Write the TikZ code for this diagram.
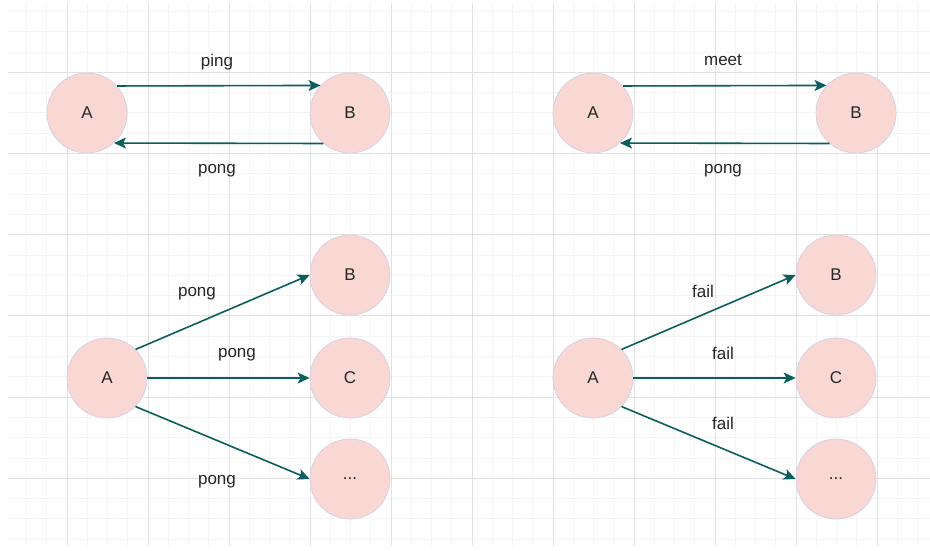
\documentclass[tikz,border=0pt]{standalone}
\usepackage{fontspec}
\setmainfont{Liberation Sans}
\usetikzlibrary{arrows.meta}
\definecolor{cfill}{HTML}{F9D8D3}
\definecolor{cline}{HTML}{D8D0E6}
\definecolor{arr}{HTML}{0A5F5C}
\definecolor{gmaj}{HTML}{E2E2E2}
\definecolor{gmin}{HTML}{F4F4F4}
\tikzset{
  peer/.style={circle,fill=cfill,draw=cline,line width=0.8pt,minimum size=80pt,inner sep=0pt,font=\fontsize{17}{19}\selectfont,text=black!85},
  conn/.style={draw=arr,line width=1.6pt,-{Stealth[length=12pt,width=11pt,inset=3pt]}},
  lbl/.style={font=\fontsize{17}{19}\selectfont,text=black!85}
}
\begin{document}
\begin{tikzpicture}[x=1pt,y=-1pt]
\useasboundingbox (0,0) rectangle (930,550);
\fill[white] (0,0) rectangle (930,550);
\begin{scope}
\clip (8,3) rectangle (930,545);
\foreach \i in {0,...,46} {
  \draw[gmin,line width=0.8pt] ({6.25+20.25*\i},0) -- ({6.25+20.25*\i},550);
}
\foreach \i in {0,...,28} {
  \draw[gmin,line width=0.8pt] (0,{-9+20.3*\i}) -- (930,{-9+20.3*\i});
}
\foreach \i in {0,...,11} {
  \draw[gmaj,line width=0.9pt] ({67+81*\i},0) -- ({67+81*\i},550);
}
\foreach \i in {0,...,7} {
  \draw[gmaj,line width=0.9pt] (0,{-9+81.2*\i}) -- (930,{-9+81.2*\i});
}
\end{scope}

% top-left
\node[peer] (a1) at (87,113) {A};
\node[peer] (b1) at (350,113) {B};
\draw[conn] (a1.42.5) -- (b1.137.5);
\draw[conn] (b1.-131.5) -- (a1.-48.5);
\node[lbl] (l1) at (217,62) {ping};
\node[lbl] (l2) at (217,171) {pong};

% top-right
\node[peer] (a2) at (593,113) {A};
\node[peer] (b2) at (856,113) {B};
\draw[conn] (a2.42.5) -- (b2.137.5);
\draw[conn] (b2.-131.5) -- (a2.-48.5);
\node[lbl] (l3) at (723,60) {meet};
\node[lbl] (l4) at (723,171) {pong};

% bottom-left
\node[peer] (a3) at (107,378) {A};
\node[peer] (b3) at (350,275) {B};
\node[peer] (c3) at (350,378) {C};
\node[peer] (d3) at (350,479) {...};
\draw[conn] (a3.45) -- (b3.west);
\draw[conn] (a3.east) -- (c3.west);
\draw[conn] (a3.-45) -- (d3.west);
\node[lbl] (l5) at (197,294) {pong};
\node[lbl] (l6) at (237,355) {pong};
\node[lbl] (l7) at (217,482) {pong};

% bottom-right
\node[peer] (a4) at (593,378) {A};
\node[peer] (b4) at (836,275) {B};
\node[peer] (c4) at (836,378) {C};
\node[peer] (d4) at (836,479) {...};
\draw[conn] (a4.45) -- (b4.west);
\draw[conn] (a4.east) -- (c4.west);
\draw[conn] (a4.-45) -- (d4.west);
\node[lbl] (l8) at (703,291) {fail};
\node[lbl] (l9) at (723,353) {fail};
\node[lbl] (l10) at (723,423) {fail};
\end{tikzpicture}
\end{document}
